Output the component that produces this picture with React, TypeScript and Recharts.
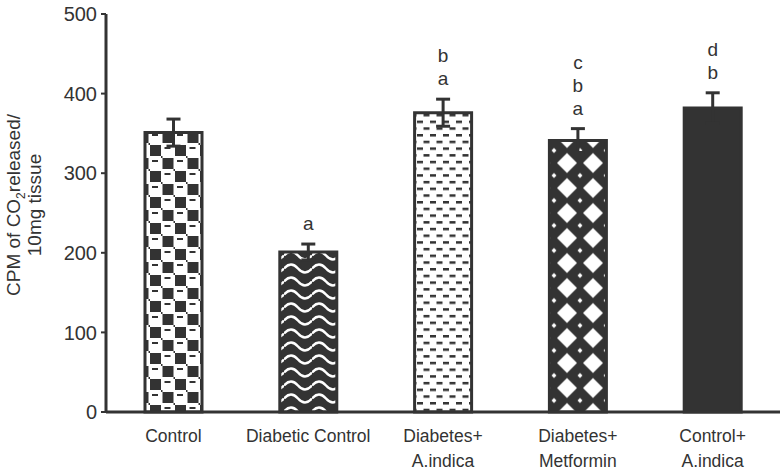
import { Bar, BarChart, Cell, ErrorBar, Label, LabelList, XAxis, YAxis } from "recharts"

const groups = [
  "Control",
  "Diabetic Control",
  "Diabetes+\nA.indica",
  "Diabetes+\nMetformin",
  "Control+\nA.indica",
]
const cpm = [351, 201, 376, 341, 382]
const sem = [17, 10, 17, 15, 19]
const letters = [[], ["a"], ["b", "a"], ["c", "b", "a"], ["d", "b"]]
const yTicks = [0, 100, 200, 300, 400, 500]

const data = groups.map((group, i) => ({ group, cpm: cpm[i], sem: sem[i] }))

const ink = "#333333"
const font = "'Liberation Sans', Arial, sans-serif"
const fills = ["url(#pCheck)", "url(#pWave)", "url(#pDash)", "url(#pDiam)", ink]

function GroupTick({ x, y, payload }: any) {
  const lines = String(payload.value).split("\n")
  return (
    <text x={x} y={y} textAnchor="middle" fontSize={17.5} fill={ink} fontFamily={font}>
      {lines.map((line, i) => (
        <tspan key={i} x={x} dy={i === 0 ? 30 : 25}>
          {line}
        </tspan>
      ))}
    </text>
  )
}

function YTitle() {
  return (
    <g fontFamily={font} fontSize={19} fill={ink}>
      <text transform="translate(20,205) rotate(-90)" textAnchor="middle">
        CPM of CO
        <tspan dy={5} fontSize={12}>
          2
        </tspan>
        <tspan dy={-5}>released/</tspan>
      </text>
      <text transform="translate(41,205) rotate(-90)" textAnchor="middle">
        10mg tissue
      </text>
    </g>
  )
}

function Letters(props: any) {
  const { x, y, width, height, value, index } = props
  const marks = letters[index] || []
  if (!marks.length) return null
  const errTop = y - sem[index] * (height / value)
  const cx = x + width / 2
  return (
    <g>
      {marks
        .slice()
        .reverse()
        .map((m, i) => (
          <text
            key={i}
            x={cx}
            y={errTop - 14 - i * 23}
            textAnchor="middle"
            fontSize={19}
            fill={ink}
            fontFamily={font}
          >
            {m}
          </text>
        ))}
    </g>
  )
}

export default function App() {
  return (
    <div style={{ position: "absolute", left: 0, top: 0, background: "#fff" }}>
      <BarChart width={782} height={471} data={data} margin={{ top: 14, right: 2, bottom: 0, left: 0 }}>
        <defs>
          <pattern id="pCheck" patternUnits="userSpaceOnUse" width={25} height={26} x={0} y={15}>
            <rect width={25} height={26} fill="#fff" />
            <rect x={0} y={0} width={11} height={11} fill={ink} />
            <rect x={12.5} y={13} width={11} height={11} fill={ink} />
            <rect x={14.5} y={2} width={6} height={2} fill={ink} />
            <rect x={2} y={15} width={6} height={2} fill={ink} />
            <rect x={11} y={11} width={1.5} height={2} fill={ink} />
            <rect x={23.5} y={24} width={1.5} height={2} fill={ink} />
          </pattern>
          <pattern id="pWave" patternUnits="userSpaceOnUse" width={28} height={13} x={4} y={2}>
            <rect width={28} height={13} fill={ink} />
            <path d="M0 6.5 Q7 -1.5 14 6.5 T28 6.5" stroke="#fff" strokeWidth={2.5} fill="none" />
          </pattern>
          <pattern id="pDash" patternUnits="userSpaceOnUse" width={13} height={13.4} x={1} y={0}>
            <rect width={13} height={13.4} fill="#fff" />
            <rect x={0} y={0} width={6} height={2.5} fill={ink} />
            <rect x={6.5} y={6.7} width={6} height={2.5} fill={ink} />
          </pattern>
          <pattern id="pDiam" patternUnits="userSpaceOnUse" width={26} height={25} x={8} y={0.5}>
            <rect width={26} height={25} fill={ink} />
            <polygon points="13,2.5 23,12.5 13,22.5 3,12.5" fill="#fff" />
            <polygon points="0,-2.5 2.5,0 0,2.5 -2.5,0" fill="#fff" />
            <polygon points="26,-2.5 28.5,0 26,2.5 23.5,0" fill="#fff" />
            <polygon points="0,22.5 2.5,25 0,27.5 -2.5,25" fill="#fff" />
            <polygon points="26,22.5 28.5,25 26,27.5 23.5,25" fill="#fff" />
          </pattern>
        </defs>
        <XAxis
          dataKey="group"
          height={59}
          axisLine={{ stroke: ink, strokeWidth: 3 }}
          tickLine={false}
          tickSize={0}
          tickMargin={0}
          interval={0}
          tick={<GroupTick />}
        />
        <YAxis
          width={106}
          domain={[0, 500]}
          ticks={yTicks}
          interval={0}
          axisLine={{ stroke: ink, strokeWidth: 3 }}
          tickLine={{ stroke: ink, strokeWidth: 2 }}
          tickSize={5}
          tickMargin={4}
          tick={{ fill: ink, fontSize: 20, fontFamily: font }}
        >
          <Label content={<YTitle />} />
        </YAxis>
        <Bar dataKey="cpm" barSize={57} stroke={ink} strokeWidth={3} isAnimationActive={false}>
          {data.map((_, i) => (
            <Cell key={i} fill={fills[i]} />
          ))}
          <ErrorBar
            dataKey="sem"
            direction="y"
            width={7}
            stroke={ink}
            strokeWidth={3}
            isAnimationActive={false}
          />
          <LabelList dataKey="cpm" content={<Letters />} />
        </Bar>
      </BarChart>
    </div>
  )
}
